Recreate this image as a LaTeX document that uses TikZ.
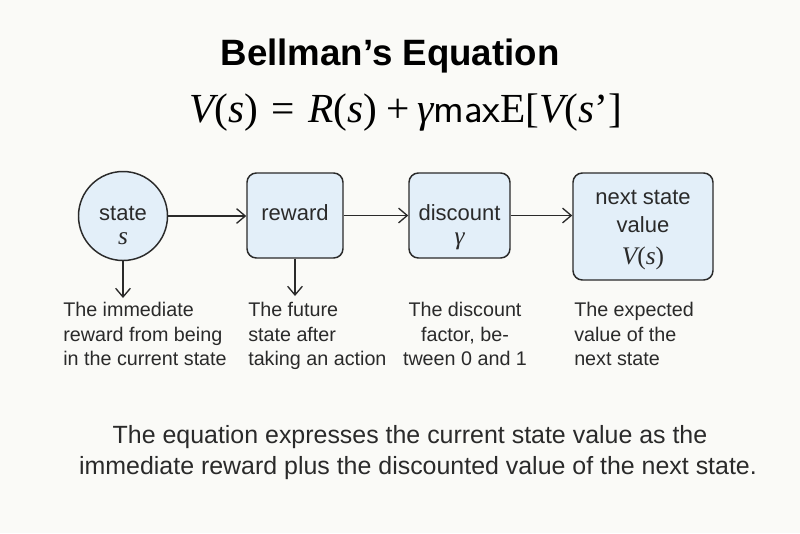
\documentclass[tikz,border=0pt]{standalone}
\usepackage{fontspec}
\setmainfont{Liberation Sans}
\newfontfamily\serif{Liberation Serif}
\usetikzlibrary{arrows.meta}
\definecolor{bg}{HTML}{FAFAF7}
\definecolor{boxfill}{HTML}{E3EFF9}
\definecolor{ink}{HTML}{2A2A2A}
\newcommand{\mi}[1]{{\serif\itshape #1}}
\tikzset{
  blk/.style={draw=ink, line width=1.1pt, fill=boxfill, inner sep=0pt},
  rbox/.style={blk, rounded corners=7pt},
  lbl/.style={inner sep=0pt, text=ink, font=\fontsize{16.5}{20}\selectfont},
  sym/.style={inner sep=0pt, text=ink, font=\fontsize{19}{20}\selectfont\serif\itshape},
  arr/.style={draw=ink, line width=1pt, -{Straight Barb[length=6.5pt,width=11pt,line width=1pt]}},
  desc/.style={anchor=north west, align=left, inner sep=0pt, text=ink,
    font=\fontsize{14.8}{18.4}\selectfont},
  botline/.style={inner sep=0pt, text=ink, font=\fontsize{18.7}{23.2}\selectfont},
}
\begin{document}
\begin{tikzpicture}[x=0.75pt,y=-0.75pt]
\fill[bg] (0,0) rectangle (800,533);
\useasboundingbox (0,0) rectangle (800,533);

\node[text=black, font=\fontsize{27.5}{30}\selectfont\bfseries] (title) at (390,56) {Bellman’s Equation};
\node[text=black, inner sep=0pt, font=\fontsize{31}{33}\selectfont\serif] (eq) at (406,113)
  {\mi{V}(\mi{s})\hspace{0.32em}=\hspace{0.32em}\mi{R}(\mi{s})\hspace{0.22em}+\hspace{0.18em}\mi{γ}{\sffamily max}E[\mi{V}(\mi{s}’]};

\node[blk, circle, minimum size=66.75pt] (state) at (123,216) {};
\node[rbox, minimum width=72pt, minimum height=63.75pt] (reward) at (295,215.5) {};
\node[rbox, minimum width=75.75pt, minimum height=63.75pt] (disc) at (459.5,215.5) {};
\node[rbox, minimum width=105pt, minimum height=80.25pt] (next) at (643,226.5) {};

\node[lbl] (stateA) at (123,213) {state};
\node[sym] (stateB) at (123,239) {s};
\node[lbl] (rewardA) at (295,213) {reward};
\node[lbl] (discA) at (459.5,213) {discount};
\node[sym] (discB) at (459.5,241) {γ};
\node[lbl] (nextA) at (643,197) {next state};
\node[lbl] (nextB) at (643,225) {value};
\node[sym] (nextC) at (643,258) {V\upshape(\itshape s\upshape)};

\draw[arr] (state.east) -- (state.east -| reward.west);
\draw[arr] (reward.east) -- (disc.west);
\draw[arr] (disc.east) -- (disc.east -| next.west);

\coordinate (d1) at (123,298);
\coordinate (d2) at (295,296);
\draw[arr] (state.south) -- (d1);
\draw[arr] (reward.south) -- (d2);

\node[desc] (t1) at (63,302) {The immediate\\reward from being\\in the current state};
\node[desc] (t2) at (248,302) {The future\\state after\\taking an action};
\node[desc, anchor=north, align=center] (t3) at (465,302) {The discount\\factor, be-\\tween 0 and 1};
\node[desc] (t4) at (574,302) {The expected\\value of the\\next state};

\node[botline] (bot1) at (410,437) {The equation expresses the current state value as the};
\node[botline] (bot2) at (418,468) {immediate reward plus the discounted value of the next state.};
\end{tikzpicture}
\end{document}
